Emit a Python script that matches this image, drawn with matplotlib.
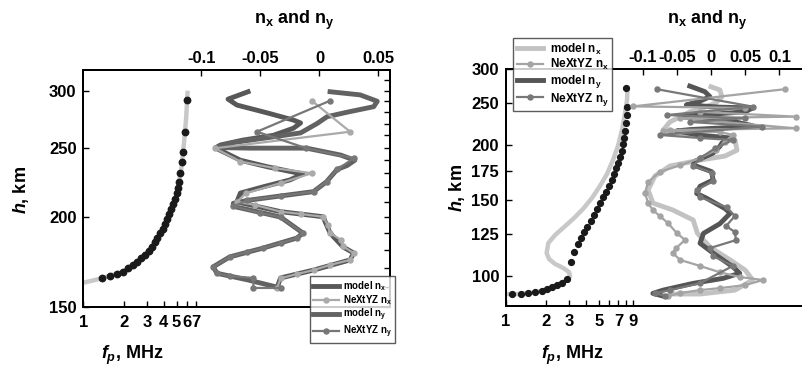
import matplotlib
matplotlib.use('Agg')
import matplotlib.pyplot as plt
from matplotlib.ticker import NullLocator, FixedLocator, NullFormatter

plt.rcParams['font.family'] = ['Liberation Sans', 'DejaVu Sans']
plt.rcParams['font.weight'] = 'bold'
plt.rcParams['mathtext.fontset'] = 'custom'
plt.rcParams['mathtext.rm'] = 'Liberation Sans:bold'
plt.rcParams['mathtext.it'] = 'Liberation Sans:italic:bold'
plt.rcParams['mathtext.bf'] = 'Liberation Sans:bold'

# ---------------- left panel data ----------------
left_line_fp = [1.0, 1.2, 1.4, 1.6, 2.0, 2.5, 3.0, 3.5, 4.0, 4.5, 5.0, 5.4, 5.7, 5.9, 6.05]
left_line_h = [162, 163.3, 164.5, 165.8, 168, 173, 178.5, 185.5, 194, 203.5, 215, 232, 255, 275, 300]

left_dots_fp = [1.37, 1.57, 1.78, 1.98, 2.15, 2.35, 2.53, 2.72, 2.91, 3.08, 3.27, 3.42, 3.58, 3.75,
                3.93, 4.08, 4.26, 4.41, 4.56, 4.72, 4.86, 5.0, 5.12, 5.24, 5.32, 5.48, 5.62, 5.75, 6.02]
left_dots_h = [164.3, 165.5, 166.6, 167.8, 169.7, 171.5, 173.3, 175.2, 177.1, 179.5, 181.9, 184.4, 187.2, 189.8,
               192.7, 195.6, 198.6, 201.8, 205, 208.4, 212, 215.9, 219.8, 224.1, 230.2, 238.8, 246.7, 263, 291]

left_model_nx_n = [-0.0605, -0.0775, -0.070, -0.044, -0.022, -0.016, -0.022, -0.039, -0.065, -0.084, -0.088,
                   -0.067, -0.044, -0.022, -0.014, -0.025, -0.048, -0.067, -0.070, -0.033, 0.003, 0.009,
                   0.020, 0.029, 0.026, -0.005, -0.033, -0.036]
left_model_nx_h = [299, 292, 286.5, 279.3, 273, 270.5, 266, 260, 256, 252, 249.6,
                   240, 235, 231, 229.7, 225.3, 220.3, 216, 210, 203.5, 200.2, 190,
                   181.7, 178.2, 174.3, 168.7, 164.5, 159.3]

left_next_nx_n = [-0.0065, 0.026, -0.0885, -0.067, -0.038, -0.0065, -0.033, -0.062, -0.070, -0.055, -0.033,
                  -0.016, 0.003, 0.007, 0.009, 0.018, 0.020, 0.029, 0.026, 0.009, -0.005, -0.019, -0.033, -0.036]
left_next_nx_h = [290.5, 263, 249.4, 239, 234, 230.2, 223, 216, 210, 208, 203.5,
                  202, 200.2, 195, 190, 186, 182, 178.2, 174.3, 171.5, 168.7, 166.6, 164.3, 159.1]

left_model_ny_n = [0.009, 0.0345, 0.049, 0.046, 0.0235, 0.0065, -0.002, -0.016, -0.044, -0.073, -0.088,
                   -0.059, -0.011, 0.018, 0.030, 0.0235, 0.015, 0.006, -0.005, -0.033, -0.061, -0.073,
                   -0.073, -0.033, -0.014, -0.019, -0.048, -0.076, -0.090, -0.087, -0.061, -0.033]
left_model_ny_h = [299, 296, 290, 285, 280, 276, 270, 262, 258, 254, 250,
                   249.5, 249.5, 244, 240, 236, 233, 224, 217, 214, 211, 209,
                   207, 200, 190, 187, 181, 176, 170.5, 167, 163.5, 159.3]

left_next_ny_n = [0.009, -0.053, -0.011, 0.029, 0.015, 0.006, -0.005, -0.033, -0.061, -0.073, -0.050,
                  -0.033, -0.014, -0.019, -0.033, -0.048, -0.061, -0.076, -0.090, -0.087, -0.076,
                  -0.056, -0.056, -0.033]
left_next_ny_h = [290.5, 263, 249.4, 241.5, 233, 224, 217, 214, 211, 207, 202.6,
                  200, 190, 187, 184, 181, 178.8, 176, 170.5, 167, 165.5,
                  164.5, 159.3, 159.3]

# ---------------- right panel data ----------------
right_line_fp = [1.0, 1.27, 1.65, 2.02, 2.41, 2.68, 2.93, 3.03, 2.98, 2.70, 2.34, 2.11, 2.02, 2.08, 2.34,
                 2.68, 3.19, 3.79, 4.43, 5.09, 5.75, 6.38, 6.95, 7.45, 7.85, 8.13, 8.20]
right_line_h = [90.9, 90.9, 91.7, 93.2, 95.3, 96.9, 98.4, 100, 102.1, 104.3, 106.6, 109.4, 113, 119.1, 124.3,
                129, 135.3, 142.7, 151.3, 161.3, 171.9, 185.3, 199.4, 217.1, 237.5, 254.6, 271.3]

right_dots_fp = [1.10, 1.29, 1.47, 1.65, 1.86, 2.02, 2.21, 2.41, 2.62, 2.86, 3.08, 3.26, 3.46, 3.65, 3.86,
                 4.09, 4.33, 4.59, 4.86, 5.12, 5.39, 5.68, 5.95, 6.23, 6.49, 6.71, 6.95, 7.20, 7.41, 7.62,
                 7.75, 7.89, 7.98, 8.08, 8.17, 7.98]
right_dots_h = [90.9, 90.9, 91.2, 91.7, 92.3, 93.2, 94.2, 95.3, 96.5, 98.3, 107.9, 113.8, 118.3, 122.2, 126.1,
                129.9, 134.1, 138.2, 142.5, 147.1, 151.9, 156.4, 161.5, 166.5, 171.9, 177.1, 182.4, 188.4, 194.4, 201.6,
                208.4, 215.8, 224.9, 235.1, 245.6, 270.8]

right_model_nx_n = [0.0, 0.013, 0.016, 0.007, -0.009, -0.031, -0.060, -0.070, -0.053, -0.016, 0.0205, 0.035,
                    0.038, 0.0205, -0.016, -0.060, -0.082, -0.092, -0.085, -0.056, -0.026, -0.020, -0.0015,
                    0.028, 0.050, 0.061, 0.035, -0.016, -0.060]
right_model_nx_h = [273, 268.4, 258.8, 250.5, 245, 239, 226.5, 217, 213.6, 211.4, 209, 206,
                    195, 189, 185, 179.3, 170, 158, 147.3, 142, 134.6, 125.6, 116.6,
                    108.9, 103.2, 97.9, 92.8, 90.9, 90.9]

right_next_nx_n = [0.108, -0.114, 0.050, -0.016, 0.124, -0.045, 0.124, -0.060, -0.070, 0.013, 0.032, 0.0205,
                   0.007, -0.016, -0.045, -0.075, -0.092, -0.0965, -0.092, -0.085, -0.075, -0.063, -0.050,
                   -0.038, -0.051, -0.056, -0.045, -0.016, 0.013, 0.042, 0.076, 0.050, 0.013, -0.016,
                   -0.045, -0.063]
right_next_nx_h = [269.5, 246, 244, 239, 233, 231, 219, 217, 216, 214.8, 211.4, 204,
                   195, 187, 180, 173.7, 164.7, 155.4, 147.3, 142, 137.5, 132.5, 125.6,
                   121.1, 116, 113, 108.9, 105.5, 102, 99.5, 97.9, 95.3, 93.8, 92.8,
                   91.4, 89.9]

right_model_ny_n = [-0.031, -0.009, -0.0015, -0.016, -0.036, 0.013, 0.061, 0.050, -0.016, -0.045, 0.028,
                    0.061, 0.028, -0.031, -0.050, -0.016, 0.028, 0.016, 0.013, 0.003, -0.023, -0.026,
                    0.001, 0.003, -0.016, -0.021, -0.006, 0.0205, 0.028, 0.013, -0.011, -0.016, 0.003,
                    0.032, 0.042, 0.018, -0.026, -0.070, -0.085, -0.070]
right_model_ny_h = [274, 266, 259, 253, 248, 245, 244, 239, 235, 233, 228,
                    222, 220, 217.5, 216, 211, 208, 202.6, 199, 192, 184, 180.3,
                    174, 166.5, 161, 155, 151, 143, 139.5, 132, 125.4, 119, 113,
                    105, 101.5, 98.8, 96.2, 92.8, 91.2, 89.9]

right_next_ny_n = [-0.079, 0.061, -0.064, 0.050, -0.031, 0.075, -0.075, -0.016, 0.032, 0.006, -0.016,
                   -0.026, 0.0015, 0.003, -0.020, -0.016, 0.023, 0.035, 0.022, 0.035, 0.0365, -0.0015,
                   0.003, 0.032, -0.016, -0.060, -0.082, -0.067]
right_next_ny_h = [269.5, 245.7, 235, 231, 226.5, 221, 211.4, 208, 205.8, 197, 187,
                   179.3, 173, 165.8, 157.9, 152, 144, 137.5, 130.4, 126.3, 121, 116,
                   111.2, 105.5, 96.3, 92.8, 91.4, 89.9]

labels = [r'model $\mathrm{n_x}$', r'NeXtYZ $\mathrm{n_x}$',
          r'model $\mathrm{n_y}$', r'NeXtYZ $\mathrm{n_y}$']

W, H = 803, 375
fig = plt.figure(figsize=(W / 100, H / 100), dpi=100)


def px_axes(x0, x1, y0, y1):
    return fig.add_axes([x0 / W, 1 - y1 / H, (x1 - x0) / W, (y1 - y0) / H])


def style_spines(a, right=True):
    for s in a.spines.values():
        s.set_linewidth(1.4)
    a.spines['right'].set_visible(right)


# ================= left panel =================
ax1 = px_axes(83.5, 390, 70, 306.7)
ax1.set_xscale('log')
ax1.set_yscale('log')
ax1.plot(left_line_fp, left_line_h, color='#c8c8c8', lw=3.2, solid_capstyle='butt', zorder=2)
ax1.plot(left_dots_fp, left_dots_h, 'o', color='#1a1a1a', ms=4.6, zorder=3)
ax1.set_xlim(1, 200)
ax1.set_ylim(150, 320.6)
ax1.set_xticks([1, 2, 3, 4, 5, 6, 7], ['1', '2', '3', '4', '5', '6', '7'])
ax1.xaxis.set_minor_locator(NullLocator())
ax1.set_yticks([150, 200, 250, 300], ['150', '200', '250', '300'])
ax1.yaxis.set_minor_locator(FixedLocator(list(range(160, 320, 10))))
ax1.yaxis.set_minor_formatter(NullFormatter())
ax1.tick_params(which='major', direction='in', length=4, width=1, left=True, right=True,
                labelsize=12, pad=5)
ax1.tick_params(axis='x', which='major', pad=6)
ax1.tick_params(which='minor', direction='in', length=4, width=1, left=False, right=True)
style_spines(ax1)

ax1n = ax1.twiny()
ax1n.set_xlim(-0.2, 0.0598)
l1, = ax1n.plot(left_model_nx_n, left_model_nx_h, color='#585858', lw=3.5, solid_joinstyle='round', zorder=2)
l2, = ax1n.plot(left_next_nx_n, left_next_nx_h, '-o', color='#aaaaaa', lw=1.6, ms=3.6, zorder=4)
l3, = ax1n.plot(left_model_ny_n, left_model_ny_h, color='#626262', lw=3.5, solid_joinstyle='round', zorder=3)
l4, = ax1n.plot(left_next_ny_n, left_next_ny_h, '-o', color='#777777', lw=1.6, ms=3.6, zorder=5)
ax1n.set_xticks([-0.1, -0.05, 0, 0.05], ['-0.1', '-0.05', '0', '0.05'])
ax1n.tick_params(direction='in', length=4, width=1, labelsize=12, pad=3)
style_spines(ax1n)
leg1 = ax1n.legend([l1, l2, l3, l4], labels, loc='upper left',
                   bbox_to_anchor=(310 / W, 1 - 276 / H), bbox_transform=fig.transFigure,
                   fontsize=7, frameon=True, fancybox=False, edgecolor='#333333',
                   borderpad=0.35, labelspacing=0.0, handlelength=2.6, handletextpad=0.4,
                   borderaxespad=0)
leg1.get_frame().set_linewidth(1.0)
leg1.set_zorder(10)

# ================= right panel =================
ax2 = px_axes(506, 803, 69, 306)
ax2.set_xscale('log')
ax2.set_yscale('log')
ax2.plot(right_line_fp, right_line_h, color='#c8c8c8', lw=3.2, solid_joinstyle='round', zorder=2)
ax2.plot(right_dots_fp, right_dots_h, 'o', color='#1a1a1a', ms=4.2, zorder=3)
ax2.set_xlim(1, 171)
ax2.set_ylim(85.3, 300)
ax2.set_xticks([1, 2, 3, 4, 5, 6, 7, 8, 9], ['1', '2', '3', '', '5', '', '7', '', '9'])
ax2.xaxis.set_minor_locator(NullLocator())
ax2.set_yticks([100, 125, 150, 175, 200, 250, 300], ['100', '125', '150', '175', '200', '250', '300'])
ax2.yaxis.set_minor_locator(NullLocator())
ax2.tick_params(which='major', direction='in', length=4, width=1, left=True, right=False,
                labelsize=12, pad=5)
ax2.tick_params(axis='x', which='major', pad=6)
style_spines(ax2, right=False)

ax2n = ax2.twiny()
ax2n.set_xlim(-0.2997, 0.1345)
r1, = ax2n.plot(right_model_nx_n, right_model_nx_h, color='#c2c2c2', lw=3.5, solid_joinstyle='round', zorder=2)
r2, = ax2n.plot(right_next_nx_n, right_next_nx_h, '-o', color='#a4a4a4', lw=1.6, ms=3.6, zorder=4)
r3, = ax2n.plot(right_model_ny_n, right_model_ny_h, color='#555555', lw=3.5, solid_joinstyle='round', zorder=3)
r4, = ax2n.plot(right_next_ny_n, right_next_ny_h, '-o', color='#787878', lw=1.6, ms=3.6, zorder=5)
ax2n.set_xticks([-0.1, -0.05, 0, 0.05, 0.1], ['-0.1', '-0.05', '0', '0.05', '0.1'])
ax2n.tick_params(direction='in', length=4, width=1, labelsize=12, pad=3)
style_spines(ax2n, right=False)
leg2 = ax2n.legend([r1, r2, r3, r4], labels, loc='upper left',
                   bbox_to_anchor=(513 / W, 1 - 38 / H), bbox_transform=fig.transFigure,
                   fontsize=8.5, frameon=True, fancybox=False, edgecolor='#333333',
                   borderpad=0.3, labelspacing=0.05, handlelength=2.2, handletextpad=0.6,
                   borderaxespad=0)
leg2.get_frame().set_linewidth(1.0)
leg2.set_zorder(10)

# ================= axis titles =================
lab = dict(fontsize=13, fontweight='bold', ha='center', va='center')
fig.text(294 / W, 1 - 20 / H, r'$\mathrm{n_x}$ and $\mathrm{n_y}$', **lab)
fig.text(707 / W, 1 - 20 / H, r'$\mathrm{n_x}$ and $\mathrm{n_y}$', **lab)
fig.text(21 / W, 1 - 190 / H, r'$\mathit{h}$, km', rotation=90, **lab)
fig.text(457 / W, 1 - 188 / H, r'$\mathit{h}$, km', rotation=90, **lab)
fig.text(132 / W, 1 - 355 / H, r'$\mathit{f_p}$, MHz', **lab)
fig.text(572 / W, 1 - 355 / H, r'$\mathit{f_p}$, MHz', **lab)

fig.savefig('out.png', dpi=100)
